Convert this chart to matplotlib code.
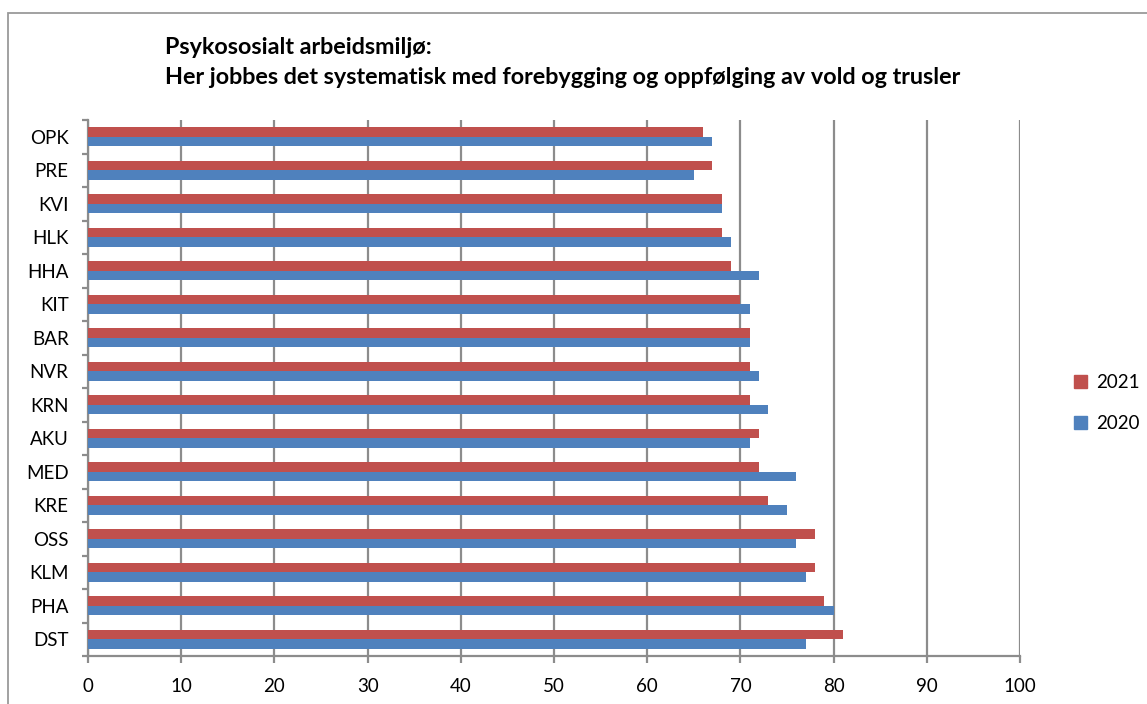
import matplotlib
matplotlib.use("Agg")
import matplotlib.pyplot as plt
from matplotlib.patches import Rectangle, Patch
import numpy as np

plt.rcParams['font.family'] = ['Lato', 'DejaVu Sans']

units = ["OPK", "PRE", "KVI", "HLK", "HHA", "KIT", "BAR", "NVR",
         "KRN", "AKU", "MED", "KRE", "OSS", "KLM", "PHA", "DST"]
vals_2021 = [66, 67, 68, 68, 69, 70, 71, 71, 71, 72, 72, 73, 78, 78, 79, 81]
vals_2020 = [67, 65, 68, 69, 72, 71, 71, 72, 73, 71, 76, 75, 76, 77, 80, 77]
xticks = list(range(0, 101, 10))
title_lines = ["Psykososialt arbeidsmiljø:",
               "Her jobbes det systematisk med forebygging og oppfølging av vold og trusler"]

W, H = 1147, 704
fig = plt.figure(figsize=(W / 100, H / 100), dpi=100)
fig.patch.set_facecolor("white")

# outer chart frame
fig.patches.append(Rectangle((8 / W, -0.1), 1.2, (H - 13) / H + 0.1,
                             transform=fig.transFigure, fill=False,
                             edgecolor="#9a9a9a", linewidth=1.3))

ax = fig.add_axes([88 / W, (H - 656) / H, (1020 - 88) / W, (656 - 120) / H])

red = "#c0504d"
blue = "#4f81bd"
grey = "#8c8c8c"
y = np.arange(len(units))
h = 0.28
ax.barh(y - h / 2, vals_2021, height=h, color=red, label="2021", zorder=3)
ax.barh(y + h / 2, vals_2020, height=h, color=blue, label="2020", zorder=3)

ax.set_ylim(len(units) - 0.5, -0.5)
ax.set_xlim(0, 100)
ax.set_xticks(xticks)
ax.set_yticks(y)
ax.set_yticklabels(units)
ax.set_yticks(np.arange(-0.5, len(units), 1.0), minor=True)
ax.xaxis.grid(True, color=grey, linewidth=1.6, zorder=0)
ax.set_axisbelow(True)

for s in ["top", "right"]:
    ax.spines[s].set_visible(False)
for s in ["left", "bottom"]:
    ax.spines[s].set_color(grey)
    ax.spines[s].set_linewidth(1.6)
ax.tick_params(axis="x", length=5, width=1.6, color=grey, labelsize=13.5, pad=10.5)
ax.tick_params(axis="y", which="major", length=0, labelsize=13.5, pad=14)
ax.tick_params(axis="y", which="minor", length=4, width=1.6, color=grey)

# two-line bold title
for i, line in enumerate(title_lines):
    fig.text(165 / W, 1 - (47 + 30 * i) / H, line, ha="left", va="center",
             fontsize=16.8, fontweight="bold")

handles = [Patch(color=red), Patch(color=blue)]
fig.legend(handles, ["2021", "2020"], loc="center left",
           bbox_to_anchor=(1074 / W, 1 - 403 / H), frameon=False,
           borderpad=0, borderaxespad=0,
           fontsize=13.5, handlelength=0.7, handleheight=0.7,
           handletextpad=0.5, labelspacing=1.3)

fig.savefig("out.png", dpi=100)
